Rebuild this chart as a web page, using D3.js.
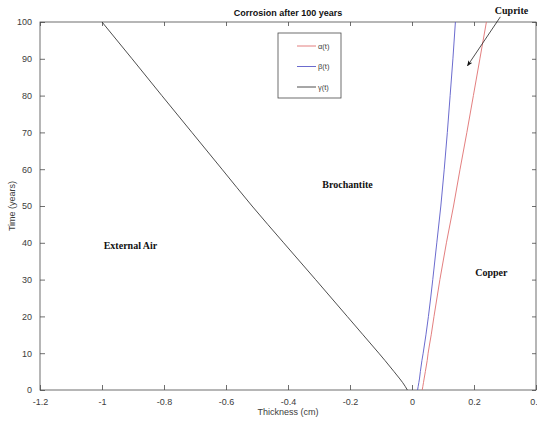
<!DOCTYPE html>
<html>
<head>
<meta charset="utf-8">
<script src="https://cdn.jsdelivr.net/npm/d3@7"></script>
<style>
  html, body { margin: 0; padding: 0; background: #fff; }
  svg { display: block; }
</style>
</head>
<body>
<div id="chart"></div>
<script>
// time samples (years) shared by every curve
const years = [0, 1, 2, 3, 5, 8, 10, 15, 20, 30, 40, 50, 60, 70, 80, 90, 100];

// interface positions (cm)
const alpha = [0.033, 0.035, 0.037, 0.039, 0.043, 0.049, 0.052, 0.062, 0.071, 0.090, 0.111, 0.134, 0.155, 0.177, 0.198, 0.219, 0.240];
const beta  = [0.018, 0.020, 0.022, 0.024, 0.027, 0.032, 0.036, 0.045, 0.053, 0.067, 0.080, 0.093, 0.104, 0.114, 0.123, 0.132, 0.140];
const gamma = [-0.015, -0.022, -0.030, -0.039, -0.058, -0.087, -0.107, -0.158, -0.209, -0.311, -0.414, -0.516, -0.613, -0.710, -0.807, -0.903, -1.0];

const xTicks = [-1.2, -1, -0.8, -0.6, -0.4, -0.2, 0, 0.2, 0.4];
const yTicks = [0, 10, 20, 30, 40, 50, 60, 70, 80, 90, 100];

const seriesNames = ['\u03b1(t)', '\u03b2(t)', '\u03b3(t)'];

const regionLabels = [
  { text: 'Cuprite', x: 0.321, y: 102.2 },
  { text: 'Brochantite', x: -0.208, y: 55.0 },
  { text: 'External Air', x: -0.908, y: 38.4 },
  { text: 'Copper', x: 0.256, y: 30.9 }
];

(function () {
  'use strict';

  const W = 537, H = 421;
  const plot = { left: 40, right: 536, top: 22, bottom: 390 };
  const axisColor = '#4a4a4a';
  const textColor = '#3c3c3c';
  const colors = ['#e07070', '#5a5ac8', '#3a3a3a'];

  const svg = d3.select('#chart').append('svg')
    .attr('width', W).attr('height', H)
    .style('font-family', 'Arial, "Liberation Sans", Helvetica, sans-serif');

  const x = d3.scaleLinear().domain([-1.2, 0.4]).range([plot.left, plot.right]);
  const y = d3.scaleLinear().domain([0, 100]).range([plot.bottom, plot.top]);

  // box frame
  svg.append('rect')
    .attr('x', plot.left).attr('y', plot.top)
    .attr('width', plot.right - plot.left).attr('height', plot.bottom - plot.top)
    .attr('fill', 'none').attr('stroke', axisColor).attr('stroke-width', 0.8);

  // plain hyphen minus like the original figure
  const fmt = d => String(+d.toFixed(1));

  // bottom axis with labels, ticks inward
  const bottom = svg.append('g').attr('transform', `translate(0,${plot.bottom})`)
    .call(d3.axisBottom(x).tickValues(xTicks).tickSize(-5).tickPadding(9).tickFormat(fmt));
  // top mirror ticks
  const top = svg.append('g').attr('transform', `translate(0,${plot.top})`)
    .call(d3.axisTop(x).tickValues(xTicks).tickSize(-4).tickFormat(''));
  const left = svg.append('g').attr('transform', `translate(${plot.left},0)`)
    .call(d3.axisLeft(y).tickValues(yTicks).tickSize(-5).tickPadding(8).tickFormat(fmt));
  const right = svg.append('g').attr('transform', `translate(${plot.right},0)`)
    .call(d3.axisRight(y).tickValues(yTicks).tickSize(-4).tickFormat(''));

  [bottom, top, left, right].forEach(g => {
    g.select('.domain').remove();
    g.selectAll('line').attr('stroke', axisColor).attr('stroke-width', 0.8);
    g.selectAll('text').attr('fill', textColor).style('font-size', '9px');
  });

  // axis titles
  svg.append('text')
    .attr('x', (plot.left + plot.right) / 2).attr('y', 415)
    .attr('text-anchor', 'middle').attr('fill', textColor)
    .style('font-size', '9px').text('Thickness (cm)');
  svg.append('text')
    .attr('transform', `translate(15,${(plot.top + plot.bottom) / 2}) rotate(-90)`)
    .attr('text-anchor', 'middle').attr('fill', textColor)
    .style('font-size', '9px').text('Time (years)');
  svg.append('text')
    .attr('x', (plot.left + plot.right) / 2).attr('y', 16)
    .attr('text-anchor', 'middle').attr('fill', '#111')
    .style('font-size', '9px').style('font-weight', 'bold')
    .text('Corrosion after 100 years');

  // curves
  const line = d3.line()
    .x(d => x(d[0]))
    .y(d => y(d[1]))
    .curve(d3.curveMonotoneY);

  [alpha, beta, gamma].forEach((vals, i) => {
    svg.append('path')
      .datum(vals.map((v, k) => [v, years[k]]))
      .attr('d', line)
      .attr('fill', 'none')
      .attr('stroke', colors[i])
      .attr('stroke-width', 0.9);
  });

  // legend
  const lg = svg.append('g').attr('transform', 'translate(278,33)');
  lg.append('rect').attr('width', 63).attr('height', 65)
    .attr('fill', '#fff').attr('stroke', axisColor).attr('stroke-width', 0.8);
  seriesNames.forEach((name, i) => {
    const yy = 13 + i * 20.5;
    lg.append('line').attr('x1', 19).attr('x2', 38).attr('y1', yy).attr('y2', yy)
      .attr('stroke', colors[i]).attr('stroke-width', 0.9);
    lg.append('text').attr('x', 40).attr('y', yy + 2.5)
      .attr('fill', textColor).style('font-size', '7.5px').text(name);
  });

  // region annotations
  svg.selectAll('text.region')
    .data(regionLabels)
    .join('text')
    .attr('class', 'region')
    .attr('x', d => x(d.x)).attr('y', d => y(d.y))
    .attr('text-anchor', 'middle')
    .attr('fill', '#111')
    .style('font-family', '"Times New Roman", "Liberation Serif", serif')
    .style('font-weight', 'bold')
    .style('font-size', '10px')
    .text(d => d.text);

  // arrow pointing at the cuprite layer
  svg.append('defs').append('marker')
    .attr('id', 'arrowhead')
    .attr('viewBox', '0 0 10 10').attr('refX', 9).attr('refY', 5)
    .attr('markerWidth', 7).attr('markerHeight', 7)
    .attr('orient', 'auto')
    .append('path').attr('d', 'M0,1 L10,5 L0,9 L2.5,5 Z').attr('fill', '#111');
  svg.append('line')
    .attr('x1', x(0.285)).attr('y1', y(101.4))
    .attr('x2', x(0.179)).attr('y2', y(88.1))
    .attr('stroke', '#222').attr('stroke-width', 0.8)
    .attr('marker-end', 'url(#arrowhead)');
})();
</script>
</body>
</html>
